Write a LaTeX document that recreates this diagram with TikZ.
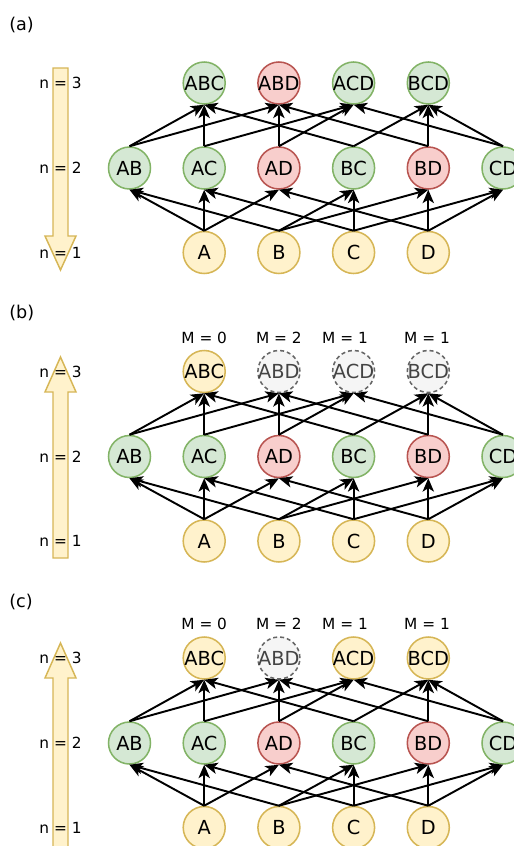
\documentclass[tikz,border=0pt]{standalone}
\usepackage{fontspec}
\setmainfont{DejaVu Sans}
\usetikzlibrary{arrows.meta}

\definecolor{gfill}{HTML}{D5E8D4}
\definecolor{gline}{HTML}{82B366}
\definecolor{rfill}{HTML}{F8CECC}
\definecolor{rline}{HTML}{B85450}
\definecolor{yfill}{HTML}{FFF2CC}
\definecolor{yline}{HTML}{D6B656}
\definecolor{kfill}{HTML}{F5F5F5}
\definecolor{kline}{HTML}{666666}
\definecolor{ktext}{HTML}{444444}

% zero-width box so the circle size depends on minimum size only
\newcommand\ctext[1]{\makebox[0pt]{#1}}

\tikzset{
  set/.style={circle, draw, line width=1.15pt, minimum size=31.5pt, inner sep=0pt,
    font=\fontsize{14.5}{17}\selectfont},
  gset/.style={set, fill=gfill, draw=gline},
  rset/.style={set, fill=rfill, draw=rline},
  yset/.style={set, fill=yfill, draw=yline},
  kset/.style={set, fill=kfill, draw=kline, dash pattern=on 3pt off 2.2pt, text=ktext},
  edge/.style={line width=1.45pt, -{Stealth[length=10pt, width=8.5pt, inset=2.6pt]}},
  bigarrow/.style={fill=yfill, draw=yline, line width=1.1pt, line join=miter},
  lvl/.style={font=\fontsize{11.5}{13}\selectfont, inner sep=0pt},
  mlab/.style={font=\fontsize{11.5}{13}\selectfont, inner sep=0pt},
  panel/.style={font=\fontsize{13.2}{15}\selectfont, inner sep=0pt, anchor=west},
}

% #1 prefix, #2 y of the top row, #3-#6 styles of ABC, ABD, ACD, BCD
\newcommand\drawlattice[6]{%
  \node[#3] (#1ABC) at (204.2,#2) {\ctext{ABC}};
  \node[#4] (#1ABD) at (278.9,#2) {\ctext{ABD}};
  \node[#5] (#1ACD) at (353.6,#2) {\ctext{ACD}};
  \node[#6] (#1BCD) at (428.3,#2) {\ctext{BCD}};
  \node[gset] (#1AB) at (129.5,#2+85) {\ctext{AB}};
  \node[gset] (#1AC) at (204.2,#2+85) {\ctext{AC}};
  \node[rset] (#1AD) at (278.9,#2+85) {\ctext{AD}};
  \node[gset] (#1BC) at (353.6,#2+85) {\ctext{BC}};
  \node[rset] (#1BD) at (428.3,#2+85) {\ctext{BD}};
  \node[gset] (#1CD) at (503.0,#2+85) {\ctext{CD}};
  \node[yset] (#1A) at (204.2,#2+169.5) {\ctext{A}};
  \node[yset] (#1B) at (278.9,#2+169.5) {\ctext{B}};
  \node[yset] (#1C) at (353.6,#2+169.5) {\ctext{C}};
  \node[yset] (#1D) at (428.3,#2+169.5) {\ctext{D}};
  \foreach \s/\t in {A/AB, A/AC, A/AD, B/AB, B/BC, B/BD, C/AC, C/BC, C/CD, D/AD, D/BD, D/CD,
      AB/ABC, AB/ABD, AC/ABC, AC/ACD, AD/ABD, AD/ACD, BC/ABC, BC/BCD, BD/ABD, BD/BCD,
      CD/ACD, CD/BCD}
    \draw[edge] (#1\s.north) -- (#1\t.south);
  \node[lvl] at (60.5,#2) {n = 3};
  \node[lvl] at (60.5,#2+85) {n = 2};
  \node[lvl] at (60.5,#2+169.5) {n = 1};
}

\begin{document}
\begin{tikzpicture}[x=0.75pt, y=-0.75pt]
\useasboundingbox (0,0) rectangle (514,846);
\clip (0,0) rectangle (514,846);

% panel (a): level arrow pointing down
\draw[bigarrow] (53,68) -- (68,68) -- (68,236) -- (76,236) -- (60.5,270)
  -- (45,236) -- (53,236) -- cycle;
\node[panel] at (9,25) {(a)};
\drawlattice{a}{83}{gset}{rset}{gset}{gset}

% panel (b): level arrow pointing up, only ABC kept
\draw[bigarrow] (60.5,357) -- (76,392) -- (68,392) -- (68,558) -- (53,558)
  -- (53,392) -- (45,392) -- cycle;
\node[panel] at (9,313) {(b)};
\drawlattice{b}{371.5}{yset}{kset}{kset}{kset}
\node[mlab] at (204.2,338) {M = 0};
\node[mlab] at (278.9,338) {M = 2};
\node[mlab] at (345,338) {M = 1};
\node[mlab] at (427,338) {M = 1};

% panel (c): level arrow pointing up, ABD dropped
\draw[bigarrow] (60.5,643) -- (76,678) -- (68,678) -- (68,870) -- (53,870)
  -- (53,678) -- (45,678) -- cycle;
\node[panel] at (9,602) {(c)};
\drawlattice{c}{658}{yset}{kset}{yset}{yset}
\node[mlab] at (204.2,624) {M = 0};
\node[mlab] at (278.9,624) {M = 2};
\node[mlab] at (345,624) {M = 1};
\node[mlab] at (427,624) {M = 1};
\end{tikzpicture}
\end{document}
